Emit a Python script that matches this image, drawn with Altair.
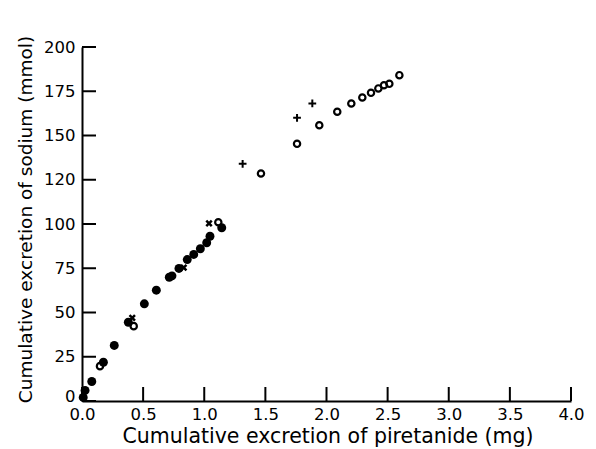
import altair as alt
import pandas as pd

# Data
filled_x = [0.01, 0.025, 0.08, 0.175, 0.264, 0.379, 0.510, 0.608, 0.714, 0.736, 0.793, 0.861, 0.914, 0.968, 1.020, 1.047, 1.143]
filled_y = [2.0, 6.0, 11.0, 21.9, 31.4, 44.5, 54.9, 62.6, 69.9, 70.7, 74.9, 79.9, 82.8, 86.0, 89.4, 93.1, 97.9]
open_x = [0.147, 0.423, 1.115, 1.464, 1.759, 1.941, 2.088, 2.203, 2.293, 2.364, 2.424, 2.470, 2.514, 2.596]
open_y = [19.7, 42.3, 101.0, 128.5, 145.3, 155.8, 163.4, 168.1, 171.5, 174.1, 176.6, 178.4, 179.2, 184.1]
plus_x = [1.314, 1.759, 1.884]
plus_y = [134.0, 160.0, 168.1]
cross_x = [0.411, 0.832, 1.039]
cross_y = [47.0, 75.3, 100.3]

x_ticks = [0.0, 0.5, 1.0, 1.5, 2.0, 2.5, 3.0, 3.5, 4.0]
y_ticks = [0, 25, 50, 75, 100, 125, 150, 175, 200]

W, H = 489, 354
FONT = "DejaVu Sans"

xscale = alt.Scale(domain=[0, 4], nice=False, zero=True)
yscale = alt.Scale(domain=[0, 200], nice=False, zero=True)

xaxis = alt.Axis(
    values=x_ticks, format=".1f", title="Cumulative excretion of piretanide (mg)",
    ticks=False, grid=False, labelPadding=5, labelFlush=False,
    titleBaseline="alphabetic", titleY=41.5, titleX=245.5, titleFontSize=20.5,
)
yaxis = alt.Axis(
    values=y_ticks, title="Cumulative excretion of sodium (mmol)",
    labelExpr="datum.value == 125 ? '120' : datum.label",
    labelOffset={"condition": {"test": "datum.value == 0", "value": -5}, "value": 0},
    ticks=False, grid=False, labelPadding=7, labelFlush=False,
    titleBaseline="alphabetic", titleX=-51, titleY=172, titleAngle=-90, titleFontSize=18.5,
)


def points(xs, ys, **mark):
    df = pd.DataFrame({"x": xs, "y": ys})
    return alt.Chart(df).mark_point(**mark).encode(
        x=alt.X("x:Q", scale=xscale, axis=xaxis),
        y=alt.Y("y:Q", scale=yscale, axis=yaxis),
    )


filled = points(filled_x, filled_y, shape="circle", filled=True, color="black", size=80, opacity=1)
opened = points(open_x, open_y, shape="circle", filled=False, color="black", size=40, strokeWidth=2.2, opacity=1)
plus = points(plus_x, plus_y, shape="M-1,0L1,0M0,-1L0,1", filled=False, color="black", size=60, strokeWidth=2, opacity=1)
cross = points(cross_x, cross_y, shape="M-1,-1L1,1M1,-1L-1,1", filled=False, color="black", size=30, strokeWidth=2.5, opacity=1)

ytick_marks = alt.Chart(pd.DataFrame({"y": y_ticks})).mark_rule(color="black", strokeWidth=2).encode(
    y=alt.Y("y:Q", scale=yscale, axis=yaxis), x=alt.value(0), x2=alt.value(14)
)
xtick_marks = alt.Chart(pd.DataFrame({"x": x_ticks})).mark_rule(color="black", strokeWidth=2).encode(
    x=alt.X("x:Q", scale=xscale, axis=xaxis), y=alt.value(H), y2=alt.value(H - 14)
)

chart = alt.layer(filled, opened, plus, cross, ytick_marks, xtick_marks).properties(
    width=W, height=H,
    autosize=alt.AutoSizeParams(type="none"),
    padding={"left": 82, "top": 47, "right": 25, "bottom": 48},
    background="white",
).configure_view(stroke=None).configure_axis(
    domainColor="black", domainWidth=2,
    labelFont=FONT, labelFontSize=16.5, labelColor="black",
    titleFont=FONT, titleFontWeight="normal", titleColor="black",
)

chart.save("out.html", embed_options={"renderer": "svg", "actions": False})
